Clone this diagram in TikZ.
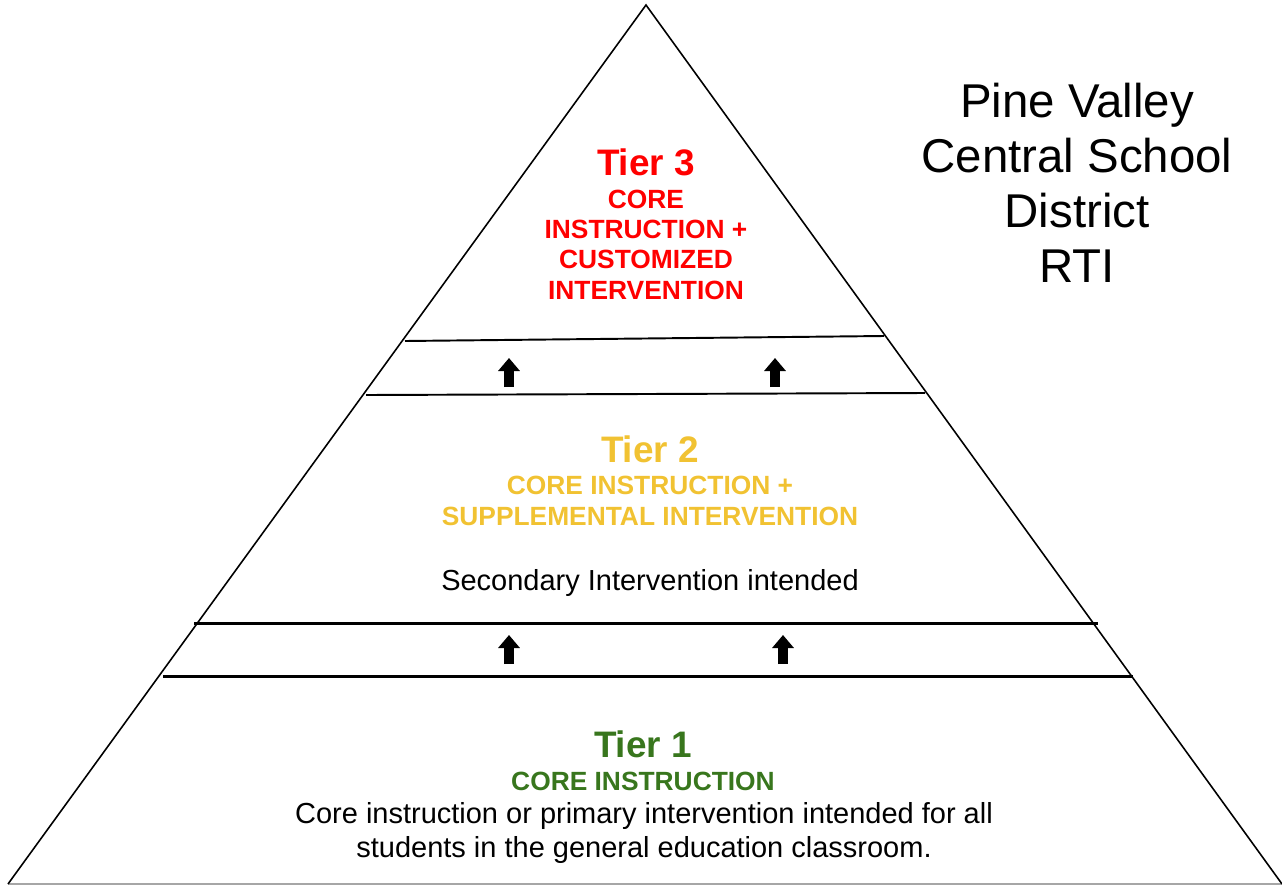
\documentclass[tikz,border=0pt]{standalone}
\usepackage{fontspec}
\setmainfont{Liberation Sans}
\usetikzlibrary{arrows.meta}
\definecolor{tierred}{HTML}{FF0000}
\definecolor{tiergold}{HTML}{F1C232}
\definecolor{tiergreen}{HTML}{38761D}
\tikzset{>={Triangle[length=7.4pt,width=12pt]}}
\tikzset{
  tierhead/.style={anchor=base, inner sep=0pt, font=\fontsize{21}{24}\selectfont\bfseries},
  tiersub/.style={anchor=base, inner sep=0pt, align=center, font=\fontsize{15}{17.2}\selectfont\bfseries},
  tiertext/.style={anchor=base, inner sep=0pt, align=center, font=\fontsize{16.5}{19.3}\selectfont},
  uparrow/.style={->, line width=5.6pt},
}

\begin{document}
\begin{tikzpicture}[x=0.02cm, y=-0.02cm]
  \useasboundingbox (0,0) rectangle (1282,886);
  % pyramid
  \coordinate (top) at (646,5);
  \coordinate (bl) at (8,884);
  \coordinate (br) at (1282,884);
  \draw[gray!70, line width=0.9pt] (bl) -- (br);
  \draw[line width=0.9pt] (bl) -- (top) -- (br);
  % tier lines
  \draw[line width=1.1pt] (405,341) -- (884,336);
  \draw[line width=1.1pt] (366,395) -- (925,393);
  \draw[line width=1.7pt] (194,623) -- (1098,623);
  \draw[line width=1.7pt] (163,676) -- (1133,676);
  % arrows
  \foreach \x/\y [count=\i] in {509/387, 775/387, 509/664, 783/664} {
    \coordinate (a\i) at (\x,\y);
    \coordinate (b\i) at (\x,\y-29);
    \draw[uparrow] (a\i) -- (b\i);
  }
  % labels (multi-line nodes sit on their last baseline)
  \node[tierhead, text=tierred] (t3) at (646,175) {Tier 3};
  \node[tiersub, text=tierred] (t3sub) at (646,299) {CORE\\INSTRUCTION +\\CUSTOMIZED\\INTERVENTION};
  \node[tierhead, text=tiergold] (t2) at (650,462) {Tier 2};
  \node[tiersub, text=tiergold] (t2sub) at (650,525) {CORE INSTRUCTION +\\SUPPLEMENTAL INTERVENTION};
  \node[tiertext] (t2txt) at (650,590) {Secondary Intervention intended};
  \node[tierhead, text=tiergreen] (t1) at (643,757) {Tier 1};
  \node[tiersub, text=tiergreen] (t1sub) at (643,790) {CORE INSTRUCTION};
  \node[tiertext] (t1txt) at (644,857) {Core instruction or primary intervention intended for all\\students in the general education classroom.};
  % title
  \node[anchor=base, inner sep=0pt, align=center, font=\fontsize{27}{31.2}\selectfont] (title) at (1077,282) {Pine Valley\\Central School\\District\\RTI};
\end{tikzpicture}
\end{document}
